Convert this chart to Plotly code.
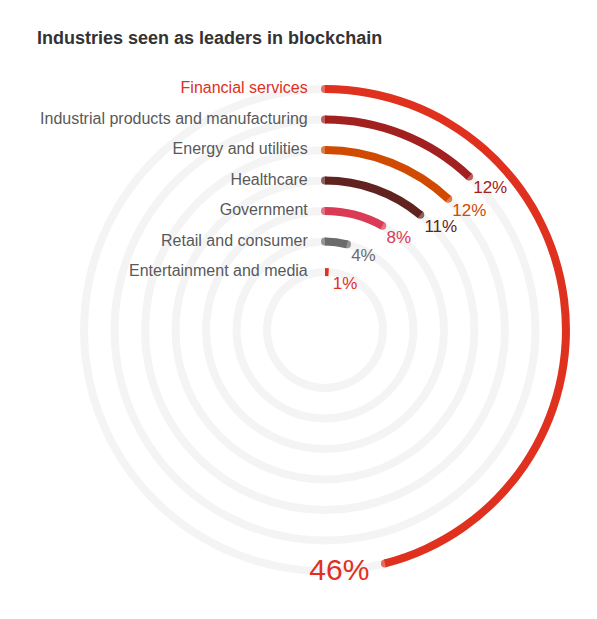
import numpy as np
import plotly.graph_objects as go

# data
industries = [
    "Financial services",
    "Industrial products and manufacturing",
    "Energy and utilities",
    "Healthcare",
    "Government",
    "Retail and consumer",
    "Entertainment and media",
]
share_pct = [46, 12, 12, 11, 8, 4, 1]
bar_colors = ["#e0301e", "#a32020", "#d04a02", "#602320", "#db3a55", "#6b6b6b", "#e0301e"]
label_colors = ["#e0301e", "#595959", "#595959", "#595959", "#595959", "#595959", "#595959"]

W, H = 597, 619
PAGE = 8   # default body margin of the html page
FONT = "Liberation Sans, Arial, sans-serif"

# ring geometry (page pixels)
cx, cy = 325 - PAGE, 330 - PAGE   # centre of rings inside the figure
ring_step = 30.5                  # px between rings
r0 = 1.9                          # innermost ring sits 1.9 ring steps from centre
r_max = 8.5                       # polar domain radius in ring steps
thick_px = 8
thick = thick_px / ring_step

n = len(industries)
levels = np.arange(n, 0, -1).astype(float)   # outer ring first
rmin = 1 - r0                                 # radial value at the centre
rmax = rmin + r_max
values = np.array(share_pct, dtype=float)
deg = values * 3.6

fig = go.Figure()

# faint full-circle tracks
fig.add_trace(go.Barpolar(
    r=[thick] * n, base=levels - thick / 2,
    theta=[180] * n, width=[360] * n,
    marker=dict(color="#f4f4f4", line=dict(width=0)),
    hoverinfo="skip", showlegend=False,
))

# value arcs
fig.add_trace(go.Barpolar(
    r=[thick] * n, base=levels - thick / 2,
    theta=deg / 2, width=deg,
    marker=dict(color=bar_colors, line=dict(width=0)),
    hovertext=industries, showlegend=False,
))

# round caps at both ends of the arcs long enough to carry them
arc_len_px = np.radians(deg) * (levels - rmin) * ring_step
cap = np.where(arc_len_px > thick_px, thick_px, 0)
fig.add_trace(go.Scatterpolar(
    r=np.concatenate([levels, levels]),
    theta=np.concatenate([np.zeros(n), deg]),
    mode="markers",
    marker=dict(size=np.concatenate([cap, cap]), color=bar_colors + bar_colors, line=dict(width=0)),
    hoverinfo="skip", showlegend=False,
))

# category labels to the left of the ring tops
fig.add_trace(go.Scatterpolar(
    r=levels, theta=[0] * n,
    mode="markers+text",
    text=industries, textposition="middle left",
    textfont=dict(family=FONT, size=16, color=label_colors),
    marker=dict(size=26, opacity=0),
    hoverinfo="skip", showlegend=False,
))

# value labels at the arc ends; the big one sits just outside, left of its end
big = values == values.max()
fig.add_trace(go.Scatterpolar(
    r=levels + np.where(big, 0.3, 0.0), theta=deg,
    mode="markers+text",
    text=[f"{v}%" for v in share_pct],
    textposition=["middle left" if b else "bottom right" for b in big],
    textfont=dict(family=FONT, size=[30 if b else 17 for b in big], color=bar_colors),
    marker=dict(size=[27 if b else 5 for b in big], opacity=0),
    cliponaxis=False,
    hoverinfo="skip", showlegend=False,
))

R = r_max * ring_step
fig.update_layout(
    width=W, height=H,
    margin=dict(l=0, r=0, t=0, b=0),
    paper_bgcolor="white", plot_bgcolor="white",
    font=dict(family=FONT),
    title=dict(
        text="<b>Industries seen as leaders in blockchain</b>",
        x=(37 - PAGE) / W, xanchor="left", y=1 - (38 - PAGE) / H, yanchor="middle",
        font=dict(family=FONT, size=18, color="#333333"),
    ),
    polar=dict(
        domain=dict(x=[(cx - R) / W, (cx + R) / W], y=[1 - (cy + R) / H, 1 - (cy - R) / H]),
        bgcolor="rgba(0,0,0,0)",
        radialaxis=dict(range=[rmin, rmax], visible=False),
        angularaxis=dict(rotation=90, direction="clockwise", visible=False),
    ),
)

fig.write_html("out.html")
